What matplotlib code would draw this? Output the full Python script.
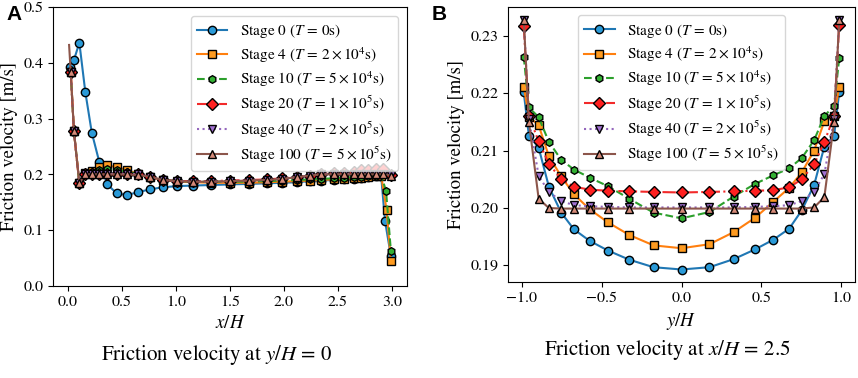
import matplotlib
matplotlib.use("Agg")
import matplotlib.pyplot as plt

plt.rcParams['font.family'] = ['STIXGeneral', 'DejaVu Serif']
plt.rcParams['mathtext.fontset'] = 'stix'

# ---------------- Panel A data (friction velocity at y/H = 0) ----------------
a_s0_x = [0.02, 0.055, 0.105, 0.16, 0.22, 0.29, 0.365, 0.45, 0.545, 0.645, 0.755, 0.88,
          1.01, 1.16, 1.325, 1.50, 1.675, 1.845, 1.985, 2.12, 2.24, 2.34, 2.465, 2.555,
          2.645, 2.71, 2.78, 2.85, 2.90, 2.935, 2.99]
a_s0_y = [0.393, 0.405, 0.436, 0.348, 0.275, 0.222, 0.182, 0.166, 0.163, 0.168, 0.173, 0.177,
          0.179, 0.180, 0.181, 0.182, 0.183, 0.184, 0.185, 0.186, 0.188, 0.189, 0.190, 0.191,
          0.192, 0.193, 0.195, 0.197, 0.197, 0.117, 0.054]

a_s4_x = [0.025, 0.055, 0.105, 0.155, 0.22, 0.29, 0.365, 0.45, 0.545, 0.645, 0.755, 0.88,
          1.01, 1.16, 1.325, 1.50, 1.675, 1.845, 1.985, 2.12, 2.24, 2.34, 2.465, 2.555,
          2.645, 2.71, 2.78, 2.85, 2.90, 2.95, 2.99]
a_s4_y = [0.384, 0.277, 0.184, 0.202, 0.206, 0.213, 0.216, 0.213, 0.208, 0.201, 0.195, 0.190,
          0.187, 0.186, 0.185, 0.185, 0.185, 0.186, 0.187, 0.188, 0.189, 0.190, 0.191, 0.192,
          0.193, 0.194, 0.196, 0.197, 0.198, 0.136, 0.044]

a_s10_x = [0.025, 0.055, 0.105, 0.155, 0.22, 0.29, 0.365, 0.45, 0.545, 0.645, 0.755, 0.88,
           1.01, 1.16, 1.325, 1.50, 1.675, 1.845, 1.985, 2.12, 2.24, 2.34, 2.465, 2.555,
           2.645, 2.71, 2.78, 2.85, 2.90, 2.945, 2.99]
a_s10_y = [0.384, 0.277, 0.184, 0.202, 0.204, 0.208, 0.209, 0.208, 0.205, 0.201, 0.196, 0.191,
           0.188, 0.187, 0.187, 0.187, 0.187, 0.188, 0.189, 0.190, 0.191, 0.192, 0.193, 0.194,
           0.195, 0.196, 0.197, 0.198, 0.199, 0.170, 0.062]

a_s20_x = [0.025, 0.055, 0.105, 0.155, 0.22, 0.29, 0.365, 0.45, 0.545, 0.645, 0.755, 0.88,
           1.01, 1.16, 1.325, 1.50, 1.675, 1.845, 1.985, 2.12, 2.24, 2.34, 2.465, 2.555,
           2.645, 2.71, 2.78, 2.85, 2.92, 2.99]
a_s20_y = [0.384, 0.277, 0.184, 0.201, 0.201, 0.201, 0.201, 0.201, 0.201, 0.200, 0.196, 0.190,
           0.188, 0.188, 0.188, 0.189, 0.190, 0.191, 0.193, 0.195, 0.198, 0.201, 0.202, 0.203,
           0.205, 0.207, 0.208, 0.209, 0.209, 0.199]

a_s40_x = [0.025, 0.055, 0.105, 0.155, 0.22, 0.29, 0.365, 0.45, 0.545, 0.645, 0.755, 0.88,
           1.01, 1.16, 1.325, 1.50, 1.675, 1.845, 1.985, 2.12, 2.24, 2.34, 2.465, 2.555,
           2.645, 2.71, 2.78, 2.85, 2.92, 2.99]
a_s40_y = [0.384, 0.277, 0.184, 0.201, 0.201, 0.201, 0.201, 0.201, 0.201, 0.200, 0.196, 0.190,
           0.188, 0.187, 0.187, 0.188, 0.189, 0.190, 0.192, 0.195, 0.198, 0.200, 0.201, 0.201,
           0.201, 0.201, 0.201, 0.201, 0.201, 0.199]

a_s100_x = [0.01, 0.025, 0.055, 0.105, 0.155, 0.22, 0.29, 0.365, 0.45, 0.545, 0.645, 0.755, 0.88,
            1.01, 1.16, 1.325, 1.50, 1.675, 1.845, 1.985, 2.12, 2.24, 2.34, 2.465, 2.555,
            2.645, 2.71, 2.78, 2.85, 2.92, 2.99]
a_s100_y = [0.432, 0.384, 0.277, 0.184, 0.200, 0.200, 0.200, 0.200, 0.200, 0.200, 0.199, 0.196, 0.190,
            0.188, 0.187, 0.187, 0.188, 0.189, 0.190, 0.192, 0.195, 0.198, 0.200, 0.200, 0.200,
            0.200, 0.200, 0.200, 0.200, 0.200, 0.198]

# ---------------- Panel B data (friction velocity at x/H = 2.5) ----------------
yb = [-0.986, -0.954, -0.893, -0.829, -0.752, -0.673, -0.575, -0.46, -0.326, -0.175, 0.0,
      0.175, 0.326, 0.46, 0.575, 0.673, 0.752, 0.829, 0.893, 0.954, 0.986]

b_s0 = [0.2201, 0.2126, 0.2105, 0.2037, 0.1992, 0.1963, 0.1943, 0.1926, 0.1910, 0.1897, 0.1893,
        0.1897, 0.1911, 0.1928, 0.1945, 0.1964, 0.1996, 0.2040, 0.2107, 0.2126, 0.2202]
b_s4 = [0.2211, 0.2159, 0.2144, 0.2090, 0.2055, 0.2024, 0.1998, 0.1975, 0.1953, 0.1935, 0.1930,
        0.1937, 0.1958, 0.1983, 0.2011, 0.2035, 0.2062, 0.2100, 0.2151, 0.2160, 0.2211]
b_s10 = [0.2263, 0.2175, 0.2158, 0.2115, 0.2084, 0.2067, 0.2053, 0.2038, 0.2016, 0.1992, 0.1982,
         0.1993, 0.2020, 0.2042, 0.2057, 0.2069, 0.2087, 0.2118, 0.2160, 0.2178, 0.2261]
b_s20 = [0.2316, 0.2160, 0.2116, 0.2077, 0.2050, 0.2037, 0.2032, 0.2030, 0.2029, 0.2028, 0.2027,
         0.2028, 0.2029, 0.2030, 0.2031, 0.2036, 0.2050, 0.2076, 0.2115, 0.2160, 0.2319]
b_s40 = [0.2328, 0.2155, 0.2056, 0.2028, 0.2012, 0.2005, 0.2003, 0.2002, 0.2001, 0.2001, 0.2001,
         0.2001, 0.2001, 0.2002, 0.2003, 0.2005, 0.2012, 0.2028, 0.2059, 0.2155, 0.2328]
b_s100 = [0.2328, 0.2150, 0.2016, 0.2000, 0.1999, 0.1999, 0.1999, 0.1999, 0.1999, 0.1999, 0.1999,
          0.1999, 0.1999, 0.1999, 0.1999, 0.1999, 0.1999, 0.2001, 0.2019, 0.2150, 0.2328]

labels = [r"Stage 0 ($T\,=\,0$s)",
          r"Stage 4 ($T\,=\,2\times10^4$s)",
          r"Stage 10 ($T\,=\,5\times10^4$s)",
          r"Stage 20 ($T\,=\,1\times10^5$s)",
          r"Stage 40 ($T\,=\,2\times10^5$s)",
          r"Stage 100 ($T\,=\,5\times10^5$s)"]

styles = [
    dict(color='#1f77b4', ls='-', marker='o', mfc='#2a9ad8', ms=6),
    dict(color='#ff7f0e', ls='-', marker='s', mfc='#ff9b20', ms=6),
    dict(color='#2ca02c', ls='--', marker='h', mfc='#33b033', ms=5.5),
    dict(color='#f22a2a', ls='-.', marker='D', mfc='#ff2020', ms=6),
    dict(color='#9467bd', ls=':', marker='v', mfc='#a070d0', ms=6),
    dict(color='#8c564b', ls='-', marker='^', mfc='#d58a78', ms=6),
]

fig = plt.figure(figsize=(8.58, 3.78), dpi=100)
axA = fig.add_axes([53/858, 1-286/378, (407-53)/858, (286-7)/378])
axB = fig.add_axes([508/858, 1-282/378, (855-508)/858, (282-7)/378])

seriesA = [(a_s0_x, a_s0_y), (a_s4_x, a_s4_y), (a_s10_x, a_s10_y),
           (a_s20_x, a_s20_y), (a_s40_x, a_s40_y), (a_s100_x, a_s100_y)]
for i, ((xs, ys), st, lab) in enumerate(zip(seriesA, styles, labels)):
    me = slice(1, None) if i == 5 else None
    axA.plot(xs, ys, color=st['color'], ls=st['ls'], lw=1.5, marker=st['marker'],
             mfc=st['mfc'], mec='black', mew=1.0, ms=st['ms'], label=lab, markevery=me)

seriesB = [b_s0, b_s4, b_s10, b_s20, b_s40, b_s100]
for ys, st, lab in zip(seriesB, styles, labels):
    axB.plot(yb, ys, color=st['color'], ls=st['ls'], lw=1.5, marker=st['marker'],
             mfc=st['mfc'], mec='black', mew=1.0, ms=st['ms'], label=lab)

axA.set_ylim(0, 0.5)
axA.set_xticks([0.0, 0.5, 1.0, 1.5, 2.0, 2.5, 3.0])
axA.set_yticks([0.0, 0.1, 0.2, 0.3, 0.4, 0.5])
axB.set_xticks([-1.0, -0.5, 0.0, 0.5, 1.0])
axB.set_yticks([0.19, 0.20, 0.21, 0.22, 0.23])
axB.set_yticklabels(["0.19", "0.20", "0.21", "0.22", "0.23"])

for ax in (axA, axB):
    ax.tick_params(labelsize=11.5)
    ax.set_ylabel("Friction velocity [m/s]", fontsize=13.5)

axA.set_xlabel(r"$x/H$", fontsize=13.5)
axB.set_xlabel(r"$y/H$", fontsize=13.5)

axA.legend(loc='upper right', fontsize=11, borderaxespad=0.6, labelspacing=0.32)
axB.legend(loc='upper center', fontsize=11, borderaxespad=0.55, labelspacing=0.32)

fig.text(217/858, 1-355/378, r"Friction velocity at $y/H\,=\,0$", ha='center', va='center', fontsize=15)
fig.text(667/858, 1-350/378, r"Friction velocity at $x/H\,=\,2.5$", ha='center', va='center', fontsize=15)

fig.text(6/858, 1-5/378, "A", ha='left', va='top', fontsize=15, fontweight='bold',
         family=['Liberation Sans', 'DejaVu Sans'])
fig.text(432/858, 1-5/378, "B", ha='left', va='top', fontsize=15, fontweight='bold',
         family=['Liberation Sans', 'DejaVu Sans'])

fig.savefig("out.png", dpi=100)
